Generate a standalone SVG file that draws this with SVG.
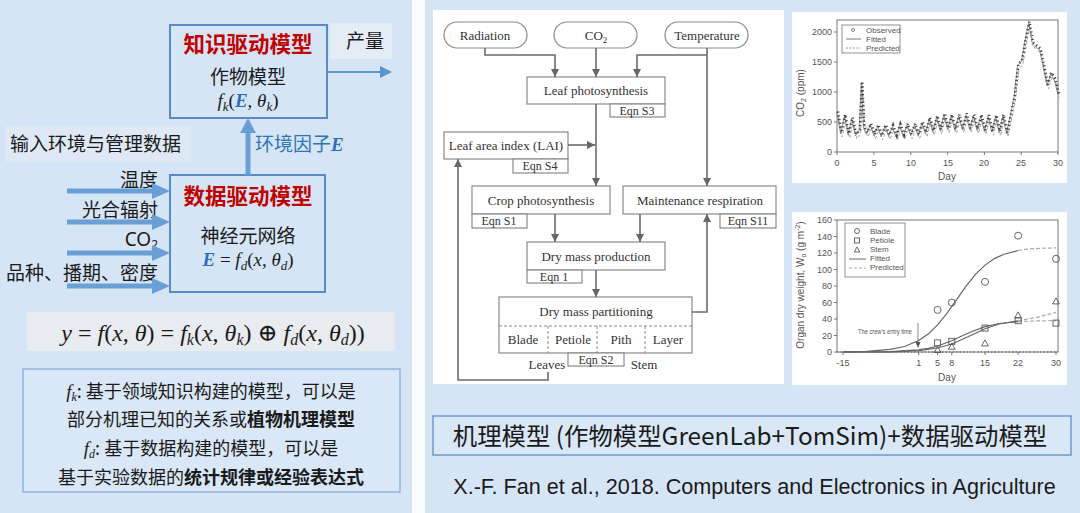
<svg xmlns="http://www.w3.org/2000/svg" xmlns:xlink="http://www.w3.org/1999/xlink" width="1080" height="513" viewBox="0 0 1080 513">
<style>
.cjk{font-family:"Noto Sans CJK SC","Noto Sans",sans-serif;fill:#1a1a1a}
.red{font-family:"Noto Sans CJK SC",sans-serif;fill:#c00000;font-weight:bold;font-size:21.5px}
.m{font-family:"Liberation Serif","DejaVu Serif",serif;fill:#1a1a1a}
.i{font-style:italic}
.eb{font-style:italic;font-weight:bold;fill:#2e6fbd}
.fc{font-family:"Liberation Serif",serif;font-size:13px;fill:#333}
.eq{font-family:"Liberation Serif",serif;font-size:12px;fill:#333}
.box{fill:#fff;stroke:#8a8a8a;stroke-width:1.2}
.ln{fill:none;stroke:#6b6b6b;stroke-width:1.6}
.ax{font-family:"Liberation Sans",sans-serif;font-size:9px;fill:#555}
.lg{font-family:"Liberation Sans",sans-serif;font-size:8px;fill:#555}
.blu{fill:#6a9fd6}
</style>
<defs>
<marker id="ah" markerWidth="8" markerHeight="8" refX="8" refY="4" orient="auto" markerUnits="userSpaceOnUse"><path d="M0,0 L8,4 L0,8 z" fill="#666"/></marker>
<path id="co2" d="M837,113 840.7,134 844.4,116 848.1,135.2 851.7,119 855.4,135.8 859.1,131 861.3,83 863.5,128 866.5,134 870.2,125 873.9,135.8 877.5,126.2 881.2,137 884.9,126.2 888.6,136.4 892.3,126.8 896,137 899.6,125.6 903.3,136.4 907,125 910.7,135.8 914.4,125 918.1,135.8 921.8,123.2 925.4,134 929.1,119 932.8,132.2 936.5,117.2 940.2,131 943.9,114.8 947.6,129.8 951.2,116 954.9,130.4 958.6,116 962.3,129.8 966,114.8 969.7,129.8 973.3,116 977,130.4 980.7,116 984.4,131.6 988.1,116.6 991.8,132.2 995.5,116.6 999.1,132.8 1002.8,116 1006.5,134 1010.2,116 1013.9,98 1017.6,65 1021.3,62 1024.9,41 1028.6,23 1032.3,44 1036,47 1039.7,50 1043.4,68 1047,86 1050.7,74 1054.4,80 1058.1,95"/>
</defs>

<!-- panels -->
<rect x="0" y="0" width="1080" height="513" fill="#fafcff"/>
<rect x="0" y="0" width="412" height="513" fill="#d6e5f6"/>
<rect x="425" y="0" width="655" height="513" fill="#d6e5f6"/>

<!-- LEFT PANEL -->
<g id="node-knowledge">
<rect x="170" y="25" width="157" height="93" fill="#d6e5f6" stroke="#5a8ac6" stroke-width="2"/>
<text x="248" y="52" text-anchor="middle" class="red">知识驱动模型</text>
<text x="248" y="84" text-anchor="middle" class="cjk" font-size="19">作物模型</text>
<text x="248" y="107" text-anchor="middle" class="m" font-size="19"><tspan class="i">f</tspan><tspan class="i" font-size="13" dy="4">k</tspan><tspan dy="-4">(</tspan><tspan class="eb">E</tspan><tspan>, </tspan><tspan class="i">θ</tspan><tspan class="i" font-size="13" dy="4">k</tspan><tspan dy="-4">)</tspan></text>
</g>
<g id="node-yield">
<rect x="330" y="23" width="62" height="36" fill="#e4ecf6"/>
<text x="365" y="48" text-anchor="middle" class="cjk" font-size="19">产量</text>
</g>
<g id="node-input">
<rect x="5" y="126" width="185" height="36" fill="#dfe9f5"/>
<text x="10" y="151" class="cjk" font-size="19">输入环境与管理数据</text>
</g>
<g id="node-data">
<rect x="170" y="175" width="155" height="117" fill="#d6e5f6" stroke="#5a8ac6" stroke-width="2"/>
<text x="248" y="204" text-anchor="middle" class="red">数据驱动模型</text>
<text x="248" y="243" text-anchor="middle" class="cjk" font-size="19">神经元网络</text>
<text x="248" y="266" text-anchor="middle" class="m" font-size="19"><tspan class="eb">E</tspan><tspan> = </tspan><tspan class="i">f</tspan><tspan class="i" font-size="13" dy="4">d</tspan><tspan dy="-4">(</tspan><tspan class="i">x</tspan><tspan>, </tspan><tspan class="i">θ</tspan><tspan class="i" font-size="13" dy="4">d</tspan><tspan dy="-4">)</tspan></text>
</g>
<g id="labels-inputs" class="cjk" font-size="19" text-anchor="end">
<text x="158" y="187">温度</text>
<text x="158" y="217">光合辐射</text>
<text x="158" y="246" font-family="Noto Sans,sans-serif">CO<tspan font-size="12" dy="3">2</tspan></text>
<text x="158" y="280">品种、播期、密度</text>
</g>
<g id="left-connectors">
<line x1="67" y1="191" x2="155" y2="191" stroke="#6a9fd6" stroke-width="5"/>
<polygon class="blu" points="152,183 170,191 152,199"/>
<line x1="67" y1="222" x2="155" y2="222" stroke="#6a9fd6" stroke-width="5"/>
<polygon class="blu" points="152,214 170,222 152,230"/>
<line x1="67" y1="253" x2="155" y2="253" stroke="#6a9fd6" stroke-width="5"/>
<polygon class="blu" points="152,245 170,253 152,261"/>
<line x1="67" y1="286" x2="155" y2="286" stroke="#6a9fd6" stroke-width="5"/>
<polygon class="blu" points="152,278 170,286 152,294"/>
<line x1="248" y1="175" x2="248" y2="130" stroke="#6a9fd6" stroke-width="5"/>
<polygon class="blu" points="240,133 248,118 256,133"/>
<line x1="327" y1="72" x2="382" y2="72" stroke="#5b93d3" stroke-width="2"/>
<polygon points="380,66 392,72 380,78" fill="#5b93d3"/>
</g>
<text x="255" y="151" class="cjk" font-size="19" style="fill:#2e75b6">环境因子<tspan class="eb" font-family="Liberation Serif,serif">E</tspan></text>
<g id="node-formula">
<rect x="27" y="312" width="368" height="39" fill="#e8ebef"/>
<text x="213" y="341" text-anchor="middle" class="m" font-size="24"><tspan class="i">y</tspan><tspan> = </tspan><tspan class="i">f</tspan><tspan>(</tspan><tspan class="i">x</tspan><tspan>, </tspan><tspan class="i">θ</tspan><tspan>) = </tspan><tspan class="i">f</tspan><tspan class="i" font-size="16" dy="4">k</tspan><tspan dy="-4">(</tspan><tspan class="i">x</tspan><tspan>, </tspan><tspan class="i">θ</tspan><tspan class="i" font-size="16" dy="4">k</tspan><tspan dy="-4">) ⊕ </tspan><tspan class="i">f</tspan><tspan class="i" font-size="16" dy="4">d</tspan><tspan dy="-4">(</tspan><tspan class="i">x</tspan><tspan>, </tspan><tspan class="i">θ</tspan><tspan class="i" font-size="16" dy="4">d</tspan><tspan dy="-4">))</tspan></text>
</g>
<g id="node-notes">
<rect x="23" y="369" width="377" height="123" fill="#d9e7f6" stroke="#8fb4de" stroke-width="1.5"/>
<text x="211" y="398" text-anchor="middle" class="cjk" font-size="18"><tspan class="m i" font-size="19">f</tspan><tspan class="m i" font-size="12" dy="3">k</tspan><tspan dy="-3">: 基于领域知识构建的模型，可以是</tspan></text>
<text x="211" y="426" text-anchor="middle" class="cjk" font-size="18">部分机理已知的关系或<tspan font-weight="bold">植物机理模型</tspan></text>
<text x="211" y="455" text-anchor="middle" class="cjk" font-size="18"><tspan class="m i" font-size="19">f</tspan><tspan class="m i" font-size="12" dy="3">d</tspan><tspan dy="-3">: 基于数据构建的模型，可以是</tspan></text>
<text x="211" y="484" text-anchor="middle" class="cjk" font-size="18">基于实验数据的<tspan font-weight="bold">统计规律或经验表达式</tspan></text>
</g>

<!-- RIGHT PANEL: flowchart -->
<rect x="433" y="10" width="351" height="374" fill="#fff"/>
<g id="node-radiation"><rect x="444" y="22" width="83" height="26" rx="13" class="box"/><text x="485" y="40" text-anchor="middle" class="fc">Radiation</text></g>
<g id="node-co2"><rect x="554" y="22" width="83" height="26" rx="13" class="box"/><text x="596" y="40" text-anchor="middle" class="fc">CO<tspan font-size="9" dy="3">2</tspan></text></g>
<g id="node-temperature"><rect x="665" y="22" width="83" height="26" rx="13" class="box"/><text x="707" y="40" text-anchor="middle" class="fc">Temperature</text></g>
<g id="node-leafphoto"><rect x="527" y="77" width="138" height="27" class="box"/><text x="596" y="95" text-anchor="middle" class="fc">Leaf photosynthesis</text><rect x="610" y="104" width="55" height="13" class="box"/><text x="637" y="115" text-anchor="middle" class="eq">Eqn S3</text></g>
<g id="node-lai"><rect x="444" y="132" width="124" height="27" class="box"/><text x="506" y="150" text-anchor="middle" class="fc">Leaf area index (LAI)</text><rect x="513" y="159" width="55" height="14" class="box"/><text x="540" y="170" text-anchor="middle" class="eq">Eqn S4</text></g>
<g id="node-cropphoto"><rect x="472" y="186" width="138" height="28" class="box"/><text x="541" y="205" text-anchor="middle" class="fc">Crop photosynthesis</text><rect x="472" y="214" width="55" height="14" class="box"/><text x="499" y="225" text-anchor="middle" class="eq">Eqn S1</text></g>
<g id="node-maint"><rect x="623" y="186" width="153" height="28" class="box"/><text x="700" y="205" text-anchor="middle" class="fc">Maintenance respiration</text><rect x="720" y="214" width="56" height="14" class="box"/><text x="748" y="225" text-anchor="middle" class="eq">Eqn S11</text></g>
<g id="node-drymass"><rect x="527" y="242" width="138" height="28" class="box"/><text x="596" y="261" text-anchor="middle" class="fc">Dry mass production</text><rect x="527" y="270" width="55" height="13" class="box"/><text x="554" y="281" text-anchor="middle" class="eq">Eqn 1</text></g>
<g id="node-partition">
<rect x="499" y="297" width="193" height="56" class="box"/>
<text x="596" y="316" text-anchor="middle" class="fc">Dry mass partitioning</text>
<path d="M499,326 H692 M548,326 V353 M597,326 V353 M645,326 V353" stroke="#888" stroke-width="1" stroke-dasharray="3,2" fill="none"/>
<text x="523" y="344" text-anchor="middle" class="fc">Blade</text>
<text x="573" y="344" text-anchor="middle" class="fc">Petiole</text>
<text x="621" y="344" text-anchor="middle" class="fc">Pith</text>
<text x="668" y="344" text-anchor="middle" class="fc">Layer</text>
<rect x="568" y="353" width="56" height="13" class="box"/><text x="596" y="364" text-anchor="middle" class="eq">Eqn S2</text>
<text x="547" y="369" text-anchor="middle" class="fc">Leaves</text>
<text x="644" y="369" text-anchor="middle" class="fc">Stem</text>
</g>
<g id="connectors">
<path class="ln" d="M485,48 V55 H555 V77" marker-end="url(#ah)"/>
<path class="ln" d="M596,48 V77" marker-end="url(#ah)"/>
<path class="ln" d="M707,48 V186" marker-end="url(#ah)"/>
<path class="ln" d="M707,55 H637 V77" marker-end="url(#ah)"/>
<path class="ln" d="M596,104 V186" marker-end="url(#ah)"/>
<path class="ln" d="M568,145 H595" marker-end="url(#ah)"/>
<path class="ln" d="M555,214 V242" marker-end="url(#ah)"/>
<path class="ln" d="M640,214 V242" marker-end="url(#ah)"/>
<path class="ln" d="M596,270 V297" marker-end="url(#ah)"/>
<path class="ln" d="M692,312 H707 V214" marker-end="url(#ah)"/>
<path class="ln" d="M548,372 V380 H458 V159" marker-end="url(#ah)"/>
</g>

<!-- CHART 1 -->
<g id="chart-co2">
<rect x="792" y="12" width="275" height="171" fill="#fff"/>
<rect x="837" y="20" width="221" height="132" fill="none" stroke="#777" stroke-width="1"/>
<g stroke="#777" stroke-width="1">
<path d="M837,152 v3 M873.9,152 v3 M910.7,152 v3 M947.6,152 v3 M984.4,152 v3 M1021.3,152 v3 M1058,152 v3 M837,152 h-3 M837,122 h-3 M837,92 h-3 M837,62 h-3 M837,32 h-3"/>
</g>
<use xlink:href="#co2" href="#co2" fill="none" stroke="#aaa" stroke-width="1" stroke-dasharray="3,2" transform="translate(1.5,3)"/>
<use xlink:href="#co2" href="#co2" fill="none" stroke="#888" stroke-width="0.9"/>
<use xlink:href="#co2" href="#co2" fill="none" stroke="#444" stroke-width="2.6" stroke-dasharray="1.2,2.6" transform="translate(0.8,-1.5)"/>
<g class="ax" text-anchor="end">
<text x="832" y="155">0</text><text x="832" y="125">500</text><text x="832" y="95">1000</text><text x="832" y="65">1500</text><text x="832" y="35">2000</text>
</g>
<g class="ax" text-anchor="middle">
<text x="837" y="166">0</text><text x="874" y="166">5</text><text x="911" y="166">10</text><text x="948" y="166">15</text><text x="984" y="166">20</text><text x="1021" y="166">25</text><text x="1058" y="166">30</text>
<text x="947" y="180" font-size="10">Day</text>
<text transform="translate(804,93) rotate(-90)" font-size="10">CO<tspan font-size="7" dy="2">2</tspan><tspan dy="-2"> (ppm)</tspan></text>
</g>
<rect x="842" y="25" width="58" height="28" fill="#fff" stroke="#777" stroke-width="0.8"/>
<circle cx="853" cy="30" r="1.5" fill="none" stroke="#666" stroke-width="0.8"/>
<line x1="846" y1="39" x2="861" y2="39" stroke="#666" stroke-width="0.9"/>
<line x1="846" y1="48" x2="861" y2="48" stroke="#888" stroke-width="0.9" stroke-dasharray="2,1.5"/>
<text x="866" y="33" class="lg">Observed</text>
<text x="866" y="42" class="lg">Fitted</text>
<text x="866" y="51" class="lg">Predicted</text>
</g>

<!-- CHART 2 -->
<g id="chart-organ">
<rect x="792" y="212" width="275" height="173" fill="#fff"/>
<rect x="837" y="220" width="221" height="132" fill="none" stroke="#777" stroke-width="1"/>
<line x1="837" y1="352" x2="1058" y2="352" stroke="#555" stroke-width="1" stroke-dasharray="1.5,2"/>
<g stroke="#777" stroke-width="1">
<path d="M843,352 v3 M918.7,352 v3 M937.6,352 v3 M951.8,352 v3 M985,352 v3 M1018.1,352 v3 M1056,352 v3 M837,352 h-3 M837,335.5 h-3 M837,319 h-3 M837,302.5 h-3 M837,286 h-3 M837,269.5 h-3 M837,253 h-3 M837,236.5 h-3 M837,220 h-3"/>
</g>
<g fill="none" stroke-width="1.2">
<polyline stroke="#666" points="843,351.8 866.7,351.3 890.3,349.4 904.5,346.5 918.7,340.5 928.2,334.1 937.6,324.9 947.1,313.1 956.6,299.6 966.1,286.2 975.5,274.4 985,265.1 994.5,258.6 1003.9,254.2 1018.1,250.5"/>
<polyline stroke="#aaa" stroke-dasharray="4,2" points="1018.1,250.5 1025,249.3 1040,248.3 1056,247.9"/>
<polyline stroke="#666" points="843,352 890.3,351.6 918.7,349.8 928.2,348.3 937.6,346 951.8,340.7 961.3,336.3 970.8,332 985,326.7 999.2,323.5 1018.1,321.6"/>
<polyline stroke="#aaa" stroke-dasharray="4,2" points="1018.1,321.6 1037,320.9 1056,320.6"/>
<polyline stroke="#666" points="843,352 890.3,351.8 918.7,350.6 937.6,348 951.8,344 970.8,335.5 985,328.8 999.2,324 1018.1,320.8"/>
<polyline stroke="#aaa" stroke-dasharray="4,2" points="1018.1,320.8 1037,317.3 1056,312.4"/>
</g>
<g fill="none" stroke="#555" stroke-width="0.9">
<circle cx="937.6" cy="309.9" r="3.5"/><circle cx="951.8" cy="302.5" r="3.5"/><circle cx="985" cy="281.9" r="3.5"/><circle cx="1018.1" cy="235.7" r="3.5"/><circle cx="1056" cy="258.8" r="3.5"/>
<rect x="934.6" y="339.9" width="6" height="6"/><rect x="948.8" y="338.3" width="6" height="6"/><rect x="982" y="325.1" width="6" height="6"/><rect x="1015.1" y="317.7" width="6" height="6"/><rect x="1053" y="320.1" width="6" height="6"/>
<path d="M937.6,346.5 l3.4,6 h-6.8 z M951.8,343.2 l3.4,6 h-6.8 z M985,339.9 l3.4,6 h-6.8 z M1018.1,311.9 l3.4,6 h-6.8 z M1056,297.9 l3.4,6 h-6.8 z"/>
</g>
<text x="858" y="334" class="lg" font-size="5.3" textLength="54" lengthAdjust="spacingAndGlyphs">The crew's entry time</text>
<line x1="918" y1="323" x2="918" y2="344" stroke="#555" stroke-width="0.7"/>
<path d="M915.5,342 L918,348 L920.5,342 z" fill="#555"/>
<g class="ax" text-anchor="end">
<text x="832" y="355">0</text><text x="832" y="338.5">20</text><text x="832" y="322">40</text><text x="832" y="305.5">60</text><text x="832" y="289">80</text><text x="832" y="272.5">100</text><text x="832" y="256">120</text><text x="832" y="239.5">140</text><text x="832" y="223">160</text>
</g>
<g class="ax" text-anchor="middle">
<text x="843" y="366">-15</text><text x="918.7" y="366">1</text><text x="937.6" y="366">5</text><text x="951.8" y="366">8</text><text x="985" y="366">15</text><text x="1018.1" y="366">22</text><text x="1056" y="366">30</text>
<text x="947" y="381" font-size="10">Day</text>
<text transform="translate(804,285) rotate(-90)" font-size="10">Organ dry weight, W<tspan font-size="7" dy="2">o</tspan><tspan dy="-2"> (g m</tspan><tspan font-size="7" dy="-4">-2</tspan><tspan dy="4">)</tspan></text>
</g>
<rect x="845" y="223" width="60" height="54" fill="#fff" stroke="#777" stroke-width="0.8"/>
<g fill="none" stroke="#555" stroke-width="0.9">
<circle cx="857" cy="231" r="2.5"/><rect x="854.5" y="238" width="5" height="5"/><path d="M857,247 l2.8,5 h-5.6 z"/>
</g>
<line x1="849" y1="259" x2="866" y2="259" stroke="#666" stroke-width="1"/>
<line x1="849" y1="268" x2="866" y2="268" stroke="#aaa" stroke-width="1" stroke-dasharray="3,2"/>
<g class="lg"><text x="870" y="234">Blade</text><text x="870" y="243">Petiole</text><text x="870" y="252">Stem</text><text x="870" y="261">Fitted</text><text x="870" y="270">Predicted</text></g>
</g>

<!-- bottom caption -->
<g id="node-caption">
<rect x="433" y="416" width="638" height="39" fill="#d9e7f6" stroke="#6c9ad0" stroke-width="1.5"/>
<text x="750" y="445" text-anchor="middle" class="cjk" font-size="24.4">机理模型 (作物模型GreenLab+TomSim)+数据驱动模型</text>
</g>
<g id="node-citation">
<text x="754.5" y="494" text-anchor="middle" font-family="Liberation Sans,Arial,sans-serif" font-size="21.6" fill="#1a1a1a">X.-F. Fan et al., 2018. Computers and Electronics in Agriculture</text>
</g>
</svg>
